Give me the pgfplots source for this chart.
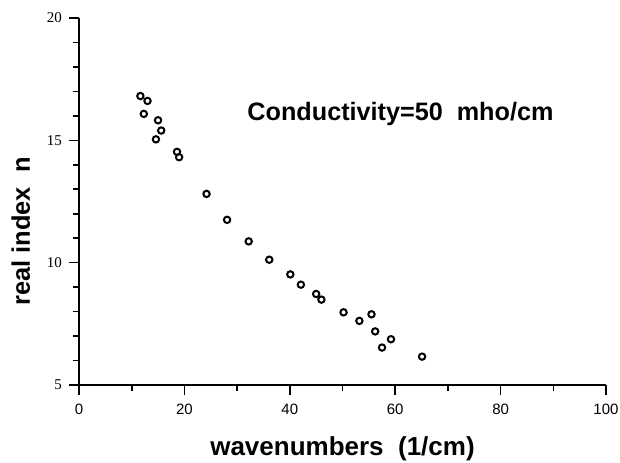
\documentclass[border=0pt]{standalone}
\usepackage{pgfplots}
\pgfplotsset{compat=1.18}
\usepackage{fontspec}
\setmainfont{Liberation Sans}
\newfontfamily\serifnum{Liberation Serif}
\begin{document}
\begin{tikzpicture}
\begin{axis}[
    scale only axis,
    width=263.5pt, height=183.5pt,
    xmin=0, xmax=100,
    ymin=5, ymax=20,
    axis x line=bottom, axis y line=left,
    axis line style={-, line width=1pt},
    xtick={0,20,...,100}, minor x tick num=1,
    ytick={5,10,15,20}, minor y tick num=4,
    tick align=outside,
    major tick length=5pt, minor tick length=3pt,
    tick style={line width=0.8pt, black},
    /pgf/number format/assume math mode=true,
    xticklabel style={font=\fontsize{7.5}{9}\selectfont, yshift=-1pt},
    yticklabel style={font=\serifnum\fontsize{7.5}{9}\selectfont},
    xlabel={wavenumbers\ \ (1/cm)},
    ylabel={real index\ \ n},
    xlabel style={font=\bfseries\fontsize{13}{15}\selectfont, yshift=-4pt},
    ylabel style={font=\bfseries\fontsize{12.7}{15}\selectfont, xshift=-15pt, yshift=1.5pt},
]
\addplot[only marks, mark=o, mark size=1.6pt, mark options={line width=1pt}] coordinates {
    (11.65,16.81) (13.0,16.61) (12.3,16.08) (15.0,15.82) (15.6,15.40)
    (14.6,15.04) (18.6,14.53) (19.0,14.31) (24.2,12.81) (28.1,11.75)
    (32.2,10.87) (36.1,10.12) (40.1,9.52) (42.1,9.10) (45.0,8.72)
    (46.0,8.49) (50.2,7.97) (53.2,7.62) (55.5,7.89) (56.2,7.19)
    (57.5,6.53) (59.2,6.87) (65.1,6.16)
};
\node[font=\bfseries\fontsize{12.6}{15}\selectfont] at (axis cs:61,16.06) {Conductivity=50\ \ mho/cm};
\end{axis}
\pgfresetboundingbox
\path ([shift={(-39.5pt,-39pt)}]current axis.south west) rectangle ([shift={(7pt,9pt)}]current axis.north east);
\end{tikzpicture}
\end{document}
